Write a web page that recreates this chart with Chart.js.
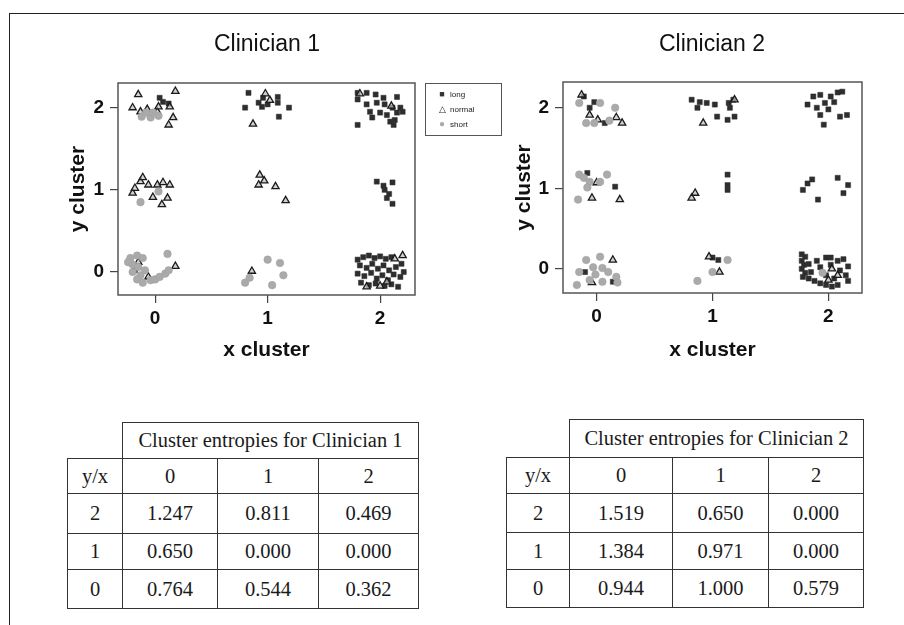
<!DOCTYPE html>
<html>
<head>
<meta charset="utf-8">
<script src="https://cdn.jsdelivr.net/npm/chart.js@4/dist/chart.umd.min.js"></script>
<style>
body {margin:0;background:#fff;width:904px;height:625px;position:relative;overflow:hidden;font-family:"Liberation Sans",Arial,sans-serif;}
.rahmis-top {position:absolute;left:9px;top:13px;width:895px;height:0;border-top:1.5px solid #222;}
.rahmis-left {position:absolute;left:9px;top:13px;width:0;height:612px;border-left:1.5px solid #222;}
.box {position:absolute;top:0;width:452px;height:380px;}
.virsraksts {position:absolute;top:30px;font-size:23px;color:#111;text-align:center;width:300px;}
.legenda {position:absolute;left:425px;top:83px;width:75px;height:51px;border:1px solid #555;font-size:8px;color:#222;}
.legenda div {position:absolute;left:8px;height:12px;line-height:12px;}
.legenda span {display:inline-block;width:16px;text-align:center;}
table {position:absolute;border-collapse:collapse;table-layout:fixed;font-family:"Liberation Serif","DejaVu Serif",serif;font-size:20.5px;color:#1a1a1a;}
td {border:1.5px solid #333;text-align:center;padding:0;}
td.tukss {border:none;}
</style>
</head>
<body>
<div class="rahmis-top"></div>
<div class="rahmis-left"></div>
<div class="box" style="left:0"><canvas id="klin1" width="452" height="380"></canvas></div>
<div class="box" style="left:452px"><canvas id="klin2" width="452" height="380"></canvas></div>
<div class="virsraksts" style="left:117px">Clinician 1</div>
<div class="virsraksts" style="left:562px">Clinician 2</div>
<div class="legenda">
  <div style="top:4px"><span style="color:#333;font-size:9px">&#9632;</span>long</div>
  <div style="top:19px"><span style="color:#222;font-size:9px">&#9651;</span>normal</div>
  <div style="top:34px"><span style="color:#aaa;font-size:10px">&#9679;</span>short</div>
</div>
<table id="tabula1" style="left:67px;top:422px"></table>
<table id="tabula2" style="left:506px;top:419px"></table>
<script>
const tickVert = [0, 1, 2];
const yRindas = ['2', '1', '0'];
const xKolonnas = ['0', '1', '2'];

// Clinician 1
const k1Long = [
  [0.04,2.12],[0.07,2.07],[0.12,2.05],
  [0.83,2.18],[0.80,2.00],[0.96,2.12],[0.95,2.01],[0.92,2.06],[1.09,2.13],[1.09,2.06],[1.19,2.00],[1.10,1.89],[1.00,2.04],
  [1.80,2.18],[1.88,2.18],[1.96,2.16],[2.03,2.12],[2.15,2.13],[1.80,2.10],[1.88,2.04],[1.97,2.06],[2.04,2.04],[2.11,2.00],
  [2.18,2.00],[1.91,1.95],[2.00,1.94],[2.06,1.91],[2.15,1.94],[2.20,1.95],[1.93,1.88],[2.09,1.83],[2.13,1.85],[1.80,1.79],[2.12,1.79],
  [1.97,1.10],[2.03,1.05],[2.11,1.09],[2.04,1.00],[2.06,0.90],[2.11,0.83],[2.08,0.95],
  [-0.18,0.02],
  [1.80,0.15],[1.85,0.18],[1.90,0.20],[1.95,0.17],[2.00,0.19],[2.05,0.16],[2.10,0.18],[1.82,0.08],[1.88,0.05],[1.93,0.10],
  [1.98,0.04],[2.03,0.08],[2.08,0.02],[2.14,0.06],[2.19,0.10],[1.80,-0.02],[1.86,-0.05],[1.92,-0.01],[1.97,-0.08],[2.02,-0.04],
  [2.07,-0.10],[2.12,-0.03],[2.18,-0.06],[1.83,-0.13],[1.90,-0.16],[1.96,-0.14],[2.04,-0.17],[2.10,-0.15],[2.16,-0.18],[2.21,0.00]
];
const k1Normal = [
  [-0.15,2.16],[-0.20,2.00],[-0.13,1.95],[-0.07,1.98],[0.02,1.95],[0.03,2.01],[0.18,2.20],[0.13,2.01],[0.12,1.79],[0.16,1.88],
  [0.98,2.17],[0.87,1.80],[1.02,2.09],
  [1.82,2.17],[2.10,2.02],
  [-0.20,0.96],[-0.18,1.02],[-0.13,1.10],[-0.11,1.15],[-0.06,1.06],[0.02,1.06],[0.07,1.09],[-0.02,0.91],[0.11,0.90],[0.06,0.82],[0.13,1.06],
  [0.93,1.18],[0.92,1.06],[0.97,1.11],[1.07,1.04],[1.16,0.87],
  [-0.06,-0.06],[0.18,0.07],[-0.15,0.12],
  [0.86,0.01],
  [1.88,-0.18],[2.00,-0.17],[2.13,0.16],[2.20,0.20],[2.06,-0.12]
];
const k1Short = [
  [-0.12,1.89],[-0.04,1.88],[-0.02,1.94],[-0.08,1.94],[0.03,1.90],
  [-0.13,0.85],[0.03,0.98],
  [-0.22,0.17],[-0.16,0.20],[-0.11,0.17],[-0.20,0.09],[-0.15,0.06],[-0.20,0.00],[-0.13,-0.04],[-0.16,-0.09],[-0.11,-0.13],
  [-0.04,-0.10],[0.00,-0.09],[0.04,-0.06],[0.09,-0.02],[0.12,0.02],[0.11,0.22],[-0.09,0.02],[-0.24,0.12],
  [1.00,0.15],[1.11,0.11],[1.14,-0.04],[1.04,-0.16],[0.80,-0.13],[0.84,-0.07]
];

// Clinician 2
const k2Long = [
  [-0.11,2.14],[-0.02,2.07],[-0.06,2.00],[0.07,1.81],
  [0.82,2.10],[0.89,2.07],[0.95,2.06],[1.02,2.04],[0.87,2.00],[1.04,1.89],[1.13,1.85],[1.19,1.89],[1.15,2.00],[1.18,2.10],[1.14,2.06],
  [1.82,2.04],[1.87,2.14],[1.93,2.16],[1.97,2.06],[1.90,2.00],[2.02,2.14],[2.08,2.19],[2.12,2.20],[1.93,1.91],[1.96,1.79],
  [2.10,1.89],[2.16,1.91],[2.05,2.07],[2.00,1.98],
  [-0.08,1.19],[0.16,1.02],
  [1.13,1.17],[1.13,1.04],[1.13,0.98],
  [1.78,0.98],[1.82,1.06],[1.86,1.11],[1.91,0.86],[2.08,1.13],[2.17,1.04],[2.13,0.94],
  [-0.10,-0.04],[0.14,-0.16],
  [1.00,0.14],[1.05,0.11],
  [1.77,0.18],[1.80,0.15],[1.77,0.10],[1.79,0.05],[1.77,0.00],[1.80,-0.05],[1.78,-0.10],[1.83,-0.12],[1.85,-0.04],[1.83,0.06],
  [1.88,-0.15],[1.93,-0.18],[1.98,-0.20],[2.03,-0.22],[2.08,-0.20],[2.05,-0.12],[1.98,-0.08],[1.93,0.02],[1.98,0.14],[2.02,0.14],
  [2.08,0.10],[2.13,0.12],[2.17,0.03],[2.15,-0.08],[2.10,-0.02],[2.02,0.05],[1.90,0.10],[2.17,-0.15]
];
const k2Normal = [
  [-0.13,2.16],[-0.06,1.91],[0.17,1.88],[0.22,1.81],[0.01,1.85],
  [0.92,1.81],[1.19,2.10],
  [0.00,1.07],[0.20,0.86],[-0.04,0.88],
  [0.82,0.88],[0.85,0.94],
  [0.14,0.11],[-0.04,-0.17],
  [0.97,0.15],[1.06,-0.04],
  [2.03,0.00],[2.00,-0.14],[2.08,-0.08]
];
const k2Short = [
  [-0.15,2.06],[0.03,2.06],[-0.09,1.81],[-0.02,1.81],[0.11,1.84],[0.16,2.00],
  [-0.15,1.17],[-0.11,1.13],[-0.06,1.08],[0.09,1.17],[-0.16,0.86],[-0.08,1.01],[0.03,1.08],
  [-0.09,0.11],[0.03,0.15],[-0.03,0.02],[0.05,0.01],[0.10,-0.04],[-0.15,-0.04],[-0.17,-0.20],[0.05,-0.16],[0.17,-0.10],
  [0.18,-0.17],[-0.01,-0.07],[-0.06,-0.14],
  [1.13,0.11],[1.00,-0.04],[0.87,-0.15],
  [1.95,-0.05]
];

const entropija1 = [[1.247, 0.811, 0.469], [0.650, 0.000, 0.000], [0.764, 0.544, 0.362]];
const entropija2 = [[1.519, 0.650, 0.000], [1.384, 0.971, 0.000], [0.944, 1.000, 0.579]];

const ramis = {
  id: 'ramis',
  afterDraw(chart) {
    const a = chart.chartArea, c = chart.ctx;
    c.save();
    c.strokeStyle = '#555';
    c.lineWidth = 1.5;
    c.strokeRect(a.left, a.top, a.right - a.left, a.bottom - a.top);
    c.restore();}};

const pts = arr => arr.map(p => ({x: p[0], y: p[1]}));

function zimet(id, garais, normalais, isais, iest) {
  const ctx = document.getElementById(id).getContext('2d');
  const fam = '"Liberation Sans", Arial, sans-serif';
  return new Chart(ctx, {
    type: 'scatter',
    data: {
      datasets: [
        {label: 'short', data: pts(isais), pointStyle: 'circle', pointRadius: 3.8, backgroundColor: '#aaa', borderColor: '#a0a0a0', borderWidth: 0.5},
        {label: 'normal', data: pts(normalais), pointStyle: 'triangle', pointRadius: 4.2, backgroundColor: 'rgba(190,190,190,0.7)', borderColor: '#1a1a1a', borderWidth: 1.3},
        {label: 'long', data: pts(garais), pointStyle: 'rect', pointRadius: 3.6, backgroundColor: '#2e2e2e', borderColor: '#2e2e2e', borderWidth: 0.5}]},
    options: {
      responsive: false, animation: false,
      layout: {padding: iest.pad},
      plugins: {legend: {display: false}, tooltip: {enabled: false}},
      scales: {
        x: {
          type: 'linear', min: iest.x[0], max: iest.x[1],
          afterBuildTicks: s => { s.ticks = tickVert.map(v => ({value: v})); },
          afterFit: s => { s.height = iest.hx; },
          grid: {drawOnChartArea: false, drawTicks: true, tickLength: 8, color: '#444', lineWidth: 1.2},
          border: {display: false},
          ticks: {font: {family: fam, size: 19, weight: 'bold'}, color: '#111', padding: 4},
          title: {display: true, text: 'x cluster', font: {family: fam, size: 21, weight: 'bold'}, color: '#111'}},
        y: {
          type: 'linear', min: iest.y[0], max: iest.y[1],
          afterBuildTicks: s => { s.ticks = tickVert.map(v => ({value: v})); },
          afterFit: s => { s.width = iest.wy; },
          grid: {drawOnChartArea: false, drawTicks: true, tickLength: 8, color: '#444', lineWidth: 1.2},
          border: {display: false},
          ticks: {font: {family: fam, size: 19, weight: 'bold'}, color: '#111', padding: 6},
          title: {display: true, text: 'y cluster', font: {family: fam, size: 21, weight: 'bold'}, color: '#111'}}}},
    plugins: [ramis]});}

zimet('klin1', k1Long, k1Normal, k1Short,
  {pad: {left: 62, top: 83, right: 37, bottom: 13}, wy: 56, hx: 72, x: [-0.33, 2.31], y: [-0.28, 2.30]});
zimet('klin2', k2Long, k2Normal, k2Short,
  {pad: {left: 56, top: 82, right: 42, bottom: 13}, wy: 55, hx: 74, x: [-0.29, 2.29], y: [-0.30, 2.32]});

function tabula(id, vert, nosaukums, platumi, augstumi) {
  const t = document.getElementById(id);
  let h = '<colgroup>' + platumi.map(w => '<col style="width:' + w + 'px">').join('') + '</colgroup>';
  h += '<tr style="height:' + augstumi[0] + 'px"><td class="tukss"></td><td colspan="3">' + nosaukums + '</td></tr>';
  h += '<tr style="height:' + augstumi[1] + 'px"><td>y/x</td>' + xKolonnas.map(k => '<td>' + k + '</td>').join('') + '</tr>';
  vert.forEach((r, i) => {
    h += '<tr style="height:' + augstumi[i + 2] + 'px"><td>' + yRindas[i] + '</td>' + r.map(v => '<td>' + v.toFixed(3) + '</td>').join('') + '</tr>';});
  t.innerHTML = h;
  t.style.width = platumi.reduce((a, b) => a + b, 0) + 'px';}

tabula('tabula1', entropija1, 'Cluster entropies for Clinician 1', [55, 95, 101, 100], [36, 35, 40, 36, 39]);
tabula('tabula2', entropija2, 'Cluster entropies for Clinician 2', [63, 103, 96, 95], [38, 36, 39, 37, 38]);
</script>
</body>
</html>
